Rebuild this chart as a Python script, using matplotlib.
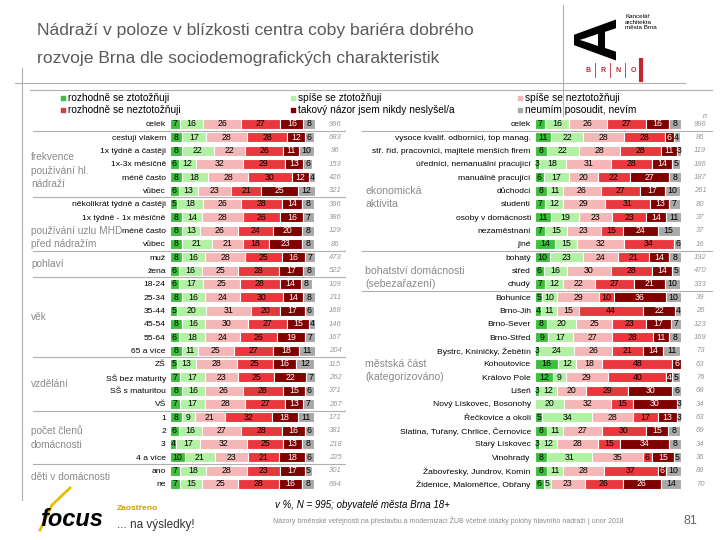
import numpy as np
import matplotlib
matplotlib.use('Agg')
import matplotlib.pyplot as plt

plt.rcParams['font.family'] = ['Liberation Sans', 'DejaVu Sans']

# --- data: left panel ---
left_labels = ['celek', 'cestují vlakem', '1x týdně a častěji', '1x-3x měsíčně', 'méně často', 'vůbec',
               'několikrát týdně a častěji', '1x týdně - 1x měsíčně', 'méně často', 'vůbec',
               'muž', 'žena', '18-24', '25-34', '35-44', '45-54', '55-64', '65 a více',
               'ZŠ', 'SŠ bez maturity', 'SŠ s maturitou', 'VŠ', '1', '2', '3', '4 a více', 'ano', 'ne']
left_dg = [7, 8, 8, 6, 8, 6, 5, 8, 8, 8, 8, 6, 6, 8, 5, 8, 6, 8, 5, 7, 8, 7, 8, 6, 4, 10, 7, 7]
left_lg = [16, 17, 22, 12, 18, 13, 18, 14, 13, 21, 16, 16, 17, 16, 20, 16, 18, 11, 13, 17, 16, 17, 9, 16, 17, 21, 18, 15]
left_pk = [26, 28, 22, 32, 28, 23, 26, 28, 26, 21, 28, 25, 25, 24, 31, 30, 24, 25, 28, 23, 26, 28, 21, 27, 32, 23, 28, 25]
left_rd = [27, 28, 26, 29, 30, 21, 28, 26, 24, 18, 25, 28, 28, 30, 20, 27, 26, 27, 25, 25, 28, 27, 32, 28, 25, 21, 23, 28]
left_dr = [16, 12, 11, 13, 12, 25, 14, 16, 20, 23, 16, 17, 14, 14, 17, 15, 19, 18, 16, 22, 15, 13, 18, 16, 13, 18, 17, 16]
left_gy = [8, 6, 10, 6, 4, 12, 8, 7, 8, 8, 7, 8, 8, 8, 6, 4, 7, 11, 12, 7, 6, 7, 11, 6, 8, 6, 5, 8]
left_n = [996, 683, 96, 153, 426, 321, 396, 386, 129, 86, 473, 522, 109, 211, 168, 146, 167, 204,
          115, 262, 371, 267, 171, 381, 218, 225, 301, 694]
left_groups = [('frekvence\npoužívání hl.\nnádraží', 3.5), ('používání uzlu MHD\npřed nádražím', 8.5),
               ('pohlaví', 10.5), ('věk', 14.5), ('vzdělání', 19.5), ('počet členů\ndomácnosti', 23.5),
               ('děti v domácnosti', 26.5)]
left_seps = [0.5, 5.5, 9.5, 11.5, 17.5, 21.5, 25.5]

# --- data: right panel ---
right_labels = ['celek', 'vysoce kvalif. odborníci, top manag.', 'stř. říd. pracovníci, majitelé menších firem',
                'úředníci, nemanuální pracující', 'manuálně pracující', 'důchodci', 'studenti',
                'osoby v domácnosti', 'nezaměstnaní', 'jiné', 'bohatý', 'střed', 'chudý',
                'Bohunice', 'Brno-Jih', 'Brno-Sever', 'Brno-Střed', 'Bystrc, Kníničky, Žebětín',
                'Kohoutovice', 'Královo Pole', 'Líšeň', 'Nový Lískovec, Bosonohy', 'Řečkovice a okolí',
                'Slatina, Tuřany, Chrlice, Černovice', 'Starý Lískovec', 'Vinohrady',
                'Žabovřesky, Jundrov, Komín', 'Židenice, Maloměřice, Obřany']
right_dg = [7, 11, 8, 3, 6, 8, 7, 11, 7, 14, 10, 6, 7, 5, 4, 8, 9, 3, 16, 12, 3, 0, 5, 8, 3, 8, 8, 6]
right_lg = [16, 22, 22, 18, 17, 11, 12, 19, 15, 15, 23, 16, 12, 10, 11, 20, 17, 24, 12, 9, 12, 20, 34, 11, 12, 31, 11, 5]
right_pk = [26, 28, 28, 31, 20, 26, 29, 23, 23, 32, 24, 30, 22, 29, 15, 25, 27, 26, 18, 29, 20, 32, 28, 27, 28, 35, 28, 23]
right_rd = [27, 28, 28, 28, 22, 27, 31, 23, 15, 34, 21, 28, 27, 10, 44, 23, 28, 21, 48, 40, 29, 15, 17, 30, 15, 6, 37, 26]
right_dr = [16, 6, 11, 14, 27, 17, 13, 14, 24, 0, 14, 14, 21, 36, 22, 17, 11, 14, 6, 4, 30, 30, 13, 15, 34, 15, 6, 26]
right_gy = [8, 4, 3, 5, 8, 10, 7, 11, 15, 6, 8, 5, 10, 10, 4, 7, 8, 11, 0, 5, 6, 3, 3, 8, 8, 5, 10, 14]
right_n = [996, 86, 119, 186, 187, 261, 80, 37, 37, 16, 192, 470, 333, 39, 26, 123, 169, 73, 63, 76,
           68, 34, 63, 69, 34, 36, 86, 70]
right_groups = [('ekonomická\naktivita', 5.5), ('bohatství domácnosti\n(sebezařazení)', 11.5),
                ('městská část\n(kategorizováno)', 18.5)]
right_seps = [0.5, 9.5, 12.5]

legend_names = ['rozhodně se ztotožňuji', 'spíše se ztotožňuji', 'spíše se neztotožňuji',
                'rozhodně se neztotožňuji', 'takový názor jsem nikdy neslyšel/a', 'neumím posoudit, nevím']
colors = ['#3cc03c', '#b2f0a4', '#f4b6b6', '#e8383d', '#800000', '#a8a8a8']
text_colors = ['black', 'black', 'black', 'black', 'white', 'black']

W, H = 720, 540
fig = plt.figure(figsize=(7.2, 5.4), dpi=100)

# background axes in pixel coordinates for decorations
bg = fig.add_axes([0, 0, 1, 1])
bg.set_xlim(0, W)
bg.set_ylim(H, 0)
bg.axis('off')

grey_line = '#b0b0b0'
bg.plot([15, 685], [83, 83], color=grey_line, lw=0.8)
bg.plot([30, 712], [90, 90], color=grey_line, lw=0.8)
bg.plot([22, 22], [68, 500], color=grey_line, lw=0.8)
bg.plot([563, 563], [5, 118], color=grey_line, lw=0.8)

bg.text(37, 30, 'Nádraží v poloze v blízkosti centra coby bariéra dobrého', fontsize=12.6,
        color='#5a5a5a', va='center', ha='left')
bg.text(37, 58, 'rozvoje Brna dle sociodemografických charakteristik', fontsize=12.6,
        color='#5a5a5a', va='center', ha='left')

# logo (simplified)
bg.text(600, 38, 'A', fontsize=44, fontweight='bold', rotation=90, ha='center', va='center', color='black')
bg.text(625, 22, 'Kancelář\narchitekta\nměsta Brna', fontsize=4.5, ha='left', va='center',
        linespacing=1.1, color='black')
for i, ch in enumerate(['B', 'R', 'N', 'O']):
    bg.text(588 + i * 15, 70, ch, fontsize=5, fontweight='bold', color='#c0282d', ha='center', va='center')
    if i < 3:
        bg.plot([595 + i * 15, 595 + i * 15], [63, 77], color='#c0282d', lw=0.6)
bg.plot([641, 641], [60, 80], color='#c0282d', lw=3)

# legend
leg_pos = [(63, 98), (293, 98), (520, 98), (63, 110), (293, 110), (520, 110)]
for (x, y), name, c in zip(leg_pos, legend_names, colors):
    bg.scatter([x], [y], marker='s', s=10, color=c)
    bg.text(x + 5, y, name, fontsize=7.3, va='center', ha='left', color='black')
bg.text(705, 116, 'n', fontsize=5, style='italic', color='#888888', ha='center', va='center')


def draw_panel(x0, x1, labels, series, ns, groups, seps, sep_x, group_x, n_x, group_fs):
    row_h = (484 - 124) / 27
    top = 124 - row_h / 2
    bottom = 484 + row_h / 2
    ax = fig.add_axes([x0 / W, 1 - bottom / H, (x1 - x0) / W, (bottom - top) / H])
    ax.set_xlim(0, 100)
    ax.set_ylim(len(labels) - 0.5, -0.5)
    for s in ax.spines.values():
        s.set_visible(False)
    ax.set_xticks([])
    y = np.arange(len(labels))
    left = np.zeros(len(labels))
    for vals, c, tc in zip(series, colors, text_colors):
        vals = np.array(vals, dtype=float)
        ax.barh(y, vals, left=left, height=0.74, color=c, edgecolor='white', linewidth=0.8)
        for yi, (l, v) in enumerate(zip(left, vals)):
            if v > 0:
                ax.text(l + v / 2, yi, f'{int(v)}', fontsize=6.3, color=tc, ha='center', va='center')
        left += vals
    ax.set_yticks(y)
    ax.set_yticklabels(labels, fontsize=6.1)
    ax.tick_params(axis='y', length=0, pad=3)
    tr = ax.get_yaxis_transform()
    w = x1 - x0
    for yi, n in enumerate(ns):
        ax.text((n_x - x0) / w, yi, str(n), transform=tr, fontsize=5.5, style='italic',
                color='#999999', ha='center', va='center', clip_on=False)
    for sy in seps:
        ax.plot([(sep_x[0] - x0) / w, (sep_x[1] - x0) / w], [sy, sy], transform=tr,
                color=grey_line, lw=0.8, clip_on=False)
    for text, gy in groups:
        ax.text((group_x - x0) / w, gy, text, transform=tr, fontsize=group_fs, color='#8a8a8a',
                ha='left', va='center', linespacing=1.45, clip_on=False)
    return ax


draw_panel(170, 315, left_labels, [left_dg, left_lg, left_pk, left_rd, left_dr, left_gy], left_n,
           left_groups, left_seps, (33, 345), 31, 335, 7.3)
draw_panel(535, 681, right_labels, [right_dg, right_lg, right_pk, right_rd, right_dr, right_gy], right_n,
           right_groups, right_seps, (362, 712), 365, 700, 7.6)

# footer
bg.text(362, 505, 'v %, N = 995; obyvatelé města Brna 18+', fontsize=7, style='italic', ha='center',
        va='center', color='black')
bg.text(448, 521, 'Názory brněnské veřejnosti na přestavbu a modernizaci ŽUB včetně otázky polohy hlavního nádraží | únor 2018',
        fontsize=5, ha='center', va='center', color='#8a8a8a')
bg.text(690, 521, '81', fontsize=9, ha='center', va='center', color='#666666')

# focus logo (simplified)
bg.text(72, 520, 'focus', fontsize=17, fontweight='bold', style='italic', ha='center', va='center', color='black')
bg.plot([40, 52, 70], [530, 505, 488], color='#e8c000', lw=2)
bg.text(117, 509, 'Zaostřeno', fontsize=6, fontweight='bold', color='#c8a000', ha='left', va='center')
bg.text(117, 525, '... na výsledky!', fontsize=8.5, color='#333333', ha='left', va='center')

fig.savefig('out.png', dpi=100)
